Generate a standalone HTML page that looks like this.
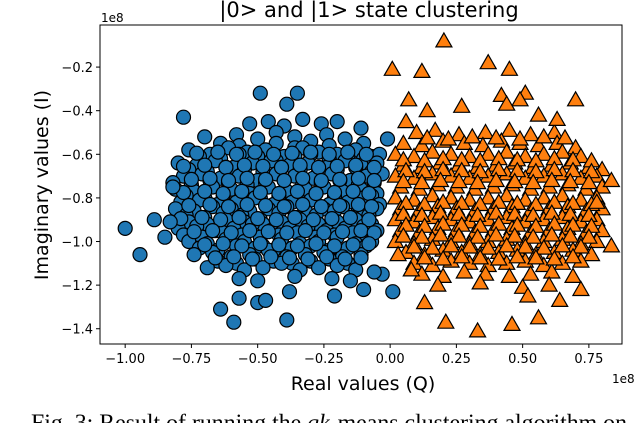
<!DOCTYPE html>
<html><head><meta charset="utf-8">
<style>
html,body{margin:0;padding:0;background:#fff;}
body{width:640px;height:423px;overflow:hidden;position:relative;}
svg{position:absolute;left:0;top:0;}
text{font-family:"DejaVu Sans","Liberation Sans",sans-serif;}
</style></head>
<body>
<svg id="chart" width="640" height="423"></svg>
<script>
const blueX=[
-0.53,-0.46,-0.40,-0.33,-0.26,-0.20,
-0.70,-0.58,-0.50,-0.43,-0.36,-0.30,-0.24,-0.17,
-0.64,-0.57,-0.43,-0.36,-0.23,-0.10,
-0.76,-0.68,-0.61,-0.54,-0.47,-0.40,-0.33,-0.27,-0.20,-0.13,-0.07,
-0.72,-0.64,-0.57,-0.50,-0.43,-0.36,-0.30,-0.23,-0.16,-0.10,-0.04,
-0.80,-0.73,-0.66,-0.59,-0.52,-0.45,-0.38,-0.31,-0.24,-0.17,-0.11,-0.05,
-0.76,-0.69,-0.62,-0.55,-0.48,-0.41,-0.34,-0.27,-0.20,-0.13,-0.07,
-0.78,-0.71,-0.64,-0.57,-0.50,-0.43,-0.36,-0.29,-0.22,-0.15,-0.09,-0.03,
-0.82,-0.75,-0.68,-0.61,-0.54,-0.47,-0.40,-0.33,-0.26,-0.19,-0.12,-0.06,
-0.81,-0.74,-0.67,-0.60,-0.53,-0.46,-0.39,-0.32,-0.25,-0.18,-0.11,-0.05,
-0.77,-0.70,-0.63,-0.56,-0.49,-0.42,-0.35,-0.28,-0.21,-0.14,-0.07,
-0.79,-0.72,-0.65,-0.58,-0.51,-0.44,-0.37,-0.30,-0.23,-0.16,-0.10,-0.04,
-0.81,-0.74,-0.67,-0.60,-0.53,-0.46,-0.39,-0.32,-0.25,-0.18,-0.12,-0.05,
-0.77,-0.70,-0.63,-0.56,-0.49,-0.42,-0.35,-0.28,-0.21,-0.14,-0.08,
-0.76,-0.69,-0.62,-0.55,-0.48,-0.41,-0.34,-0.27,-0.20,-0.13,-0.07,
-0.80,-0.73,-0.66,-0.59,-0.52,-0.45,-0.38,-0.31,-0.24,-0.17,-0.10,-0.05,
-0.78,-0.71,-0.63,-0.56,-0.49,-0.42,-0.35,-0.28,-0.21,-0.14,-0.09,
-0.76,-0.69,-0.62,-0.55,-0.48,-0.41,-0.34,-0.27,-0.20,-0.13,-0.07,
-0.72,-0.65,-0.58,-0.51,-0.44,-0.37,-0.30,-0.23,-0.16,-0.09,
-0.74,-0.67,-0.60,-0.53,-0.46,-0.39,-0.32,-0.25,-0.18,-0.11,
-0.65,-0.58,-0.51,-0.44,-0.37,-0.30,-0.23,-0.16,
-0.69,-0.62,-0.55,-0.48,-0.41,-0.34,-0.27,-0.20,-0.13,
-0.57,-0.50,-0.36,-0.22,-0.15,
-0.73,-0.65,-0.58,-0.51,-0.44,-0.37,-0.30,-0.23,-0.16,-0.09,
-0.78,-0.70,-0.62,-0.55,-0.48,-0.41,-0.34,-0.27,-0.20,-0.13,-0.06,
-0.75,-0.68,-0.61,-0.54,-0.47,-0.40,-0.33,-0.26,-0.19,-0.12,-0.06,
-0.78,-0.70,-0.63,-0.56,-0.49,-0.42,-0.35,-0.28,-0.21,-0.14,-0.08,
-0.76,-0.68,-0.61,-0.54,-0.47,-0.40,-0.33,-0.26,-0.19,-0.12,-0.07,
-0.79,-0.71,-0.64,-0.57,-0.50,-0.43,-0.36,-0.29,-0.22,-0.15,-0.08,
-0.74,-0.67,-0.60,-0.53,-0.46,-0.39,-0.32,-0.25,-0.18,-0.11,-0.06,
-0.70,-0.63,-0.56,-0.49,-0.42,-0.35,-0.28,-0.21,-0.14,-0.08,
-0.66,-0.59,-0.52,-0.45,-0.38,-0.31,-0.24,-0.17,-0.11,
-1.00,-0.944,-0.89,-0.83,-0.85,-0.82,-0.78,-0.49,-0.35,-0.39,-0.11,-0.01,
-0.64,-0.59,-0.57,-0.50,-0.47,-0.39,-0.38,-0.21,-0.10,0.01,-0.03,-0.06
];
const blueY=[
-0.46,-0.45,-0.47,-0.44,-0.46,-0.45,
-0.52,-0.51,-0.53,-0.50,-0.52,-0.54,-0.51,-0.53,
-0.55,-0.56,-0.55,-0.57,-0.56,-0.55,
-0.58,-0.60,-0.57,-0.59,-0.58,-0.61,-0.57,-0.59,-0.60,-0.58,-0.61,
-0.61,-0.62,-0.60,-0.61,-0.63,-0.61,-0.60,-0.62,-0.61,-0.62,-0.60,
-0.64,-0.65,-0.63,-0.66,-0.64,-0.63,-0.65,-0.64,-0.66,-0.63,-0.65,-0.64,
-0.67,-0.68,-0.66,-0.67,-0.68,-0.66,-0.67,-0.68,-0.67,-0.66,-0.68,
-0.70,-0.69,-0.71,-0.70,-0.72,-0.69,-0.70,-0.71,-0.69,-0.72,-0.70,-0.69,
-0.73,-0.74,-0.72,-0.73,-0.74,-0.73,-0.72,-0.74,-0.73,-0.72,-0.74,-0.73,
-0.76,-0.77,-0.75,-0.76,-0.78,-0.75,-0.77,-0.76,-0.75,-0.77,-0.76,-0.78,
-0.79,-0.80,-0.79,-0.78,-0.80,-0.79,-0.80,-0.78,-0.79,-0.80,-0.79,
-0.82,-0.81,-0.83,-0.82,-0.80,-0.83,-0.82,-0.81,-0.83,-0.82,-0.80,-0.83,
-0.85,-0.86,-0.84,-0.85,-0.86,-0.85,-0.84,-0.86,-0.85,-0.84,-0.86,-0.85,
-0.88,-0.89,-0.87,-0.88,-0.90,-0.87,-0.89,-0.88,-0.86,-0.89,-0.88,
-0.91,-0.92,-0.90,-0.91,-0.92,-0.91,-0.90,-0.92,-0.91,-0.90,-0.92,
-0.94,-0.93,-0.95,-0.94,-0.92,-0.95,-0.94,-0.93,-0.95,-0.94,-0.93,-0.95,
-0.97,-0.98,-0.96,-0.97,-0.98,-0.97,-0.96,-0.98,-0.97,-0.96,-0.98,
-1.00,-1.01,-0.99,-1.00,-1.02,-0.99,-1.01,-1.00,-0.98,-1.01,-1.00,
-1.03,-1.04,-1.02,-1.03,-1.04,-1.03,-1.02,-1.04,-1.03,-1.02,
-1.06,-1.05,-1.07,-1.06,-1.04,-1.07,-1.06,-1.05,-1.07,-1.06,
-1.09,-1.10,-1.08,-1.09,-1.10,-1.09,-1.08,-1.10,
-1.12,-1.11,-1.13,-1.12,-1.10,-1.13,-1.12,-1.11,-1.13,
-1.17,-1.18,-1.16,-1.17,-1.18,
-0.595,-0.59,-0.60,-0.59,-0.60,-0.595,-0.59,-0.60,-0.59,-0.60,
-0.655,-0.65,-0.66,-0.65,-0.655,-0.66,-0.65,-0.66,-0.655,-0.65,-0.66,
-0.715,-0.71,-0.72,-0.71,-0.715,-0.72,-0.71,-0.72,-0.715,-0.71,-0.72,
-0.775,-0.77,-0.78,-0.77,-0.775,-0.78,-0.77,-0.78,-0.775,-0.77,-0.78,
-0.835,-0.83,-0.84,-0.83,-0.835,-0.84,-0.83,-0.84,-0.835,-0.83,-0.84,
-0.895,-0.89,-0.90,-0.89,-0.895,-0.90,-0.89,-0.90,-0.895,-0.89,-0.90,
-0.955,-0.95,-0.96,-0.95,-0.955,-0.96,-0.95,-0.96,-0.955,-0.95,-0.96,
-1.015,-1.01,-1.02,-1.01,-1.015,-1.02,-1.01,-1.02,-1.015,-1.01,
-1.075,-1.07,-1.08,-1.07,-1.075,-1.08,-1.07,-1.08,-1.075,
-0.94,-1.06,-0.90,-0.91,-0.98,-0.75,-0.43,-0.32,-0.32,-0.37,-0.48,-0.53,
-1.31,-1.37,-1.26,-1.28,-1.27,-1.36,-1.23,-1.25,-1.22,-1.23,-1.15,-1.14
];
const orangeX=[
0.10,0.17,0.26,0.36,0.45,0.53,0.62,
0.05,0.12,0.20,0.28,0.35,0.42,0.49,0.56,0.63,0.70,
0.02,0.09,0.16,0.23,0.30,0.37,0.44,0.51,0.58,0.65,0.72,
0.05,0.12,0.19,0.26,0.33,0.40,0.47,0.54,0.61,0.68,0.75,0.80,
0.02,0.09,0.16,0.23,0.30,0.37,0.44,0.51,0.58,0.65,0.72,0.78,
0.04,0.11,0.18,0.25,0.32,0.39,0.46,0.53,0.60,0.67,0.74,0.80,
0.02,0.09,0.16,0.23,0.30,0.37,0.44,0.51,0.58,0.65,0.72,0.78,
0.04,0.11,0.18,0.25,0.32,0.39,0.46,0.53,0.60,0.67,0.74,0.80,
0.02,0.09,0.16,0.23,0.30,0.37,0.44,0.51,0.58,0.65,0.72,0.78,
0.04,0.11,0.18,0.25,0.32,0.39,0.46,0.53,0.60,0.67,0.74,0.80,
0.02,0.09,0.16,0.23,0.30,0.37,0.44,0.51,0.58,0.65,0.72,0.78,
0.06,0.13,0.20,0.27,0.34,0.41,0.48,0.55,0.62,0.69,0.76,
0.09,0.16,0.23,0.30,0.37,0.44,0.51,0.58,0.65,0.72,
0.12,0.20,0.28,0.36,0.45,0.53,0.61,0.69,
0.18,0.34,0.50,0.60,
0.14,0.22,0.31,0.40,0.49,0.58,0.66,
0.05,0.13,0.20,0.27,0.34,0.41,0.48,0.55,0.62,0.69,0.76,
0.06,0.13,0.20,0.27,0.34,0.41,0.48,0.55,0.62,0.69,0.76,
0.05,0.12,0.19,0.26,0.33,0.40,0.47,0.54,0.61,0.68,0.75,
0.06,0.13,0.20,0.27,0.34,0.41,0.48,0.55,0.62,0.69,0.76,
0.05,0.12,0.19,0.26,0.33,0.40,0.47,0.54,0.61,0.68,0.75,
0.06,0.13,0.20,0.27,0.34,0.41,0.48,0.55,0.62,0.69,0.76,
0.05,0.12,0.19,0.26,0.33,0.40,0.47,0.54,0.61,0.68,0.75,
0.09,0.16,0.23,0.30,0.37,0.44,0.51,0.58,0.65,0.72,
0.13,0.20,0.27,0.34,0.41,0.48,0.55,0.62,0.69,
0.203,0.008,0.12,0.37,0.45,0.70,0.07,0.42,0.51,0.49,0.44,0.56,0.63,0.27,0.14,0.06,
0.835,0.835,0.78,0.13,0.21,0.33,0.46,0.56,0.52,0.64,0.72,0.08,0.03
];
const orangeY=[
-0.50,-0.49,-0.51,-0.50,-0.49,-0.51,-0.50,
-0.55,-0.56,-0.54,-0.55,-0.56,-0.54,-0.55,-0.56,-0.55,-0.57,
-0.60,-0.61,-0.59,-0.60,-0.61,-0.60,-0.59,-0.61,-0.60,-0.59,-0.61,
-0.65,-0.66,-0.64,-0.65,-0.66,-0.65,-0.64,-0.66,-0.65,-0.64,-0.66,-0.67,
-0.70,-0.71,-0.69,-0.70,-0.71,-0.70,-0.69,-0.71,-0.70,-0.69,-0.71,-0.70,
-0.75,-0.76,-0.74,-0.75,-0.76,-0.75,-0.74,-0.76,-0.75,-0.74,-0.76,-0.75,
-0.80,-0.81,-0.79,-0.80,-0.81,-0.80,-0.79,-0.81,-0.80,-0.79,-0.81,-0.80,
-0.85,-0.86,-0.84,-0.85,-0.86,-0.85,-0.84,-0.86,-0.85,-0.84,-0.86,-0.85,
-0.90,-0.91,-0.89,-0.90,-0.91,-0.90,-0.89,-0.91,-0.90,-0.89,-0.91,-0.90,
-0.95,-0.96,-0.94,-0.95,-0.96,-0.95,-0.94,-0.96,-0.95,-0.94,-0.96,-0.95,
-1.00,-1.01,-0.99,-1.00,-1.01,-1.00,-0.99,-1.01,-1.00,-0.99,-1.01,-1.00,
-1.05,-1.06,-1.04,-1.05,-1.06,-1.05,-1.04,-1.06,-1.05,-1.04,-1.06,
-1.10,-1.11,-1.09,-1.10,-1.11,-1.10,-1.09,-1.11,-1.10,-1.09,
-1.15,-1.16,-1.14,-1.15,-1.16,-1.15,-1.14,-1.16,
-1.20,-1.19,-1.21,-1.20,
-0.525,-0.53,-0.52,-0.525,-0.53,-0.52,-0.525,
-0.625,-0.63,-0.62,-0.625,-0.63,-0.62,-0.625,-0.63,-0.62,-0.625,-0.63,
-0.675,-0.68,-0.67,-0.675,-0.68,-0.67,-0.675,-0.68,-0.67,-0.675,-0.68,
-0.725,-0.73,-0.72,-0.725,-0.73,-0.72,-0.725,-0.73,-0.72,-0.725,-0.73,
-0.825,-0.83,-0.82,-0.825,-0.83,-0.82,-0.825,-0.83,-0.82,-0.825,-0.83,
-0.875,-0.88,-0.87,-0.875,-0.88,-0.87,-0.875,-0.88,-0.87,-0.875,-0.88,
-0.925,-0.93,-0.92,-0.925,-0.93,-0.92,-0.925,-0.93,-0.92,-0.925,-0.93,
-0.975,-0.98,-0.97,-0.975,-0.98,-0.97,-0.975,-0.98,-0.97,-0.975,-0.98,
-1.025,-1.03,-1.02,-1.025,-1.03,-1.02,-1.025,-1.03,-1.02,-1.025,
-1.075,-1.08,-1.07,-1.075,-1.08,-1.07,-1.075,-1.08,-1.07,
-0.08,-0.21,-0.22,-0.18,-0.21,-0.35,-0.35,-0.33,-0.32,-0.35,-0.37,-0.42,-0.44,-0.38,-0.40,-0.45,
-0.72,-1.02,-0.82,-1.28,-1.37,-1.41,-1.38,-1.35,-1.25,-1.27,-1.22,-1.13,-1.06
];
const xTicks=[-1.00,-0.75,-0.50,-0.25,0.00,0.25,0.50,0.75];
const yTicks=[-0.2,-0.4,-0.6,-0.8,-1.0,-1.2,-1.4];

const NS="http://www.w3.org/2000/svg";
const svg=document.getElementById('chart');
const L=100,R=622,T=25,B=344;
const xMin=-1.095,xMax=0.875,yMin=-1.47,yMax=-0.007;
function sx(v){return L+(v-xMin)/(xMax-xMin)*(R-L);}
function sy(v){return B-(v-yMin)/(yMax-yMin)*(B-T);}
function mk(tag,attrs,parent){const e=document.createElementNS(NS,tag);for(const k in attrs)e.setAttribute(k,attrs[k]);(parent||svg).appendChild(e);return e;}

const title=mk('text',{x:369,y:17,'text-anchor':'middle','font-size':21,fill:'#000'});
title.textContent='|0> and |1> state clustering';



const gB=mk('g',{});


for(let i=0;i<blueX.length;i++){
  const c=mk('circle',{cx:sx(blueX[i]).toFixed(1),cy:sy(blueY[i]).toFixed(1),r:7,fill:'#1f77b4',stroke:'#000','stroke-width':1.2},gB);
  
  
}
const gO=mk('g',{});


for(let i=0;i<orangeX.length;i++){
  const x=sx(orangeX[i]),y=sy(orangeY[i]);
  const p=mk('polygon',{points:`${x.toFixed(1)},${(y-8).toFixed(1)} ${(x-8).toFixed(1)},${(y+6).toFixed(1)} ${(x+8).toFixed(1)},${(y+6).toFixed(1)}`,fill:'#ff7f0e',stroke:'#000','stroke-width':1.2},gO);
  
  
}

const frame=mk('rect',{x:L,y:T,width:R-L,height:B-T,fill:'none',stroke:'#000','stroke-width':1});



for(const t of xTicks){
  const x=sx(t);
  const tk=mk('line',{x1:x,y1:B,x2:x,y2:B+4,stroke:'#000'});
  
  
  const lb=mk('text',{x:x,y:B+19,'text-anchor':'middle','font-size':13});
  lb.textContent=(t<0?'\u2212':'')+Math.abs(t).toFixed(2);
  
  
}
for(const t of yTicks){
  const y=sy(t);
  const tk=mk('line',{x1:L-4,y1:y,x2:L,y2:y,stroke:'#000'});
  
  
  const lb=mk('text',{x:L-7,y:y+5,'text-anchor':'end','font-size':13});
  lb.textContent='\u2212'+Math.abs(t).toFixed(1);
  
  
}
const xo=mk('text',{x:101,y:22,'font-size':12});xo.textContent='1e8';


const xo2=mk('text',{x:612,y:383,'font-size':12});xo2.textContent='1e8';


const xl=mk('text',{x:363,y:390,'text-anchor':'middle','font-size':19});xl.textContent='Real values (Q)';


const yl=mk('text',{x:0,y:0,'text-anchor':'middle','font-size':19,transform:'translate(48,185) rotate(-90)'});yl.textContent='Imaginary values (I)';


const cap=mk('text',{x:31,y:430,'font-size':23,textLength:596,lengthAdjust:'spacingAndGlyphs',style:'font-family:"Liberation Serif",serif'});
cap.innerHTML='Fig. 3: Result of running the <tspan font-style="italic">qk</tspan>-means clustering algorithm on';


</script>
</body></html>
